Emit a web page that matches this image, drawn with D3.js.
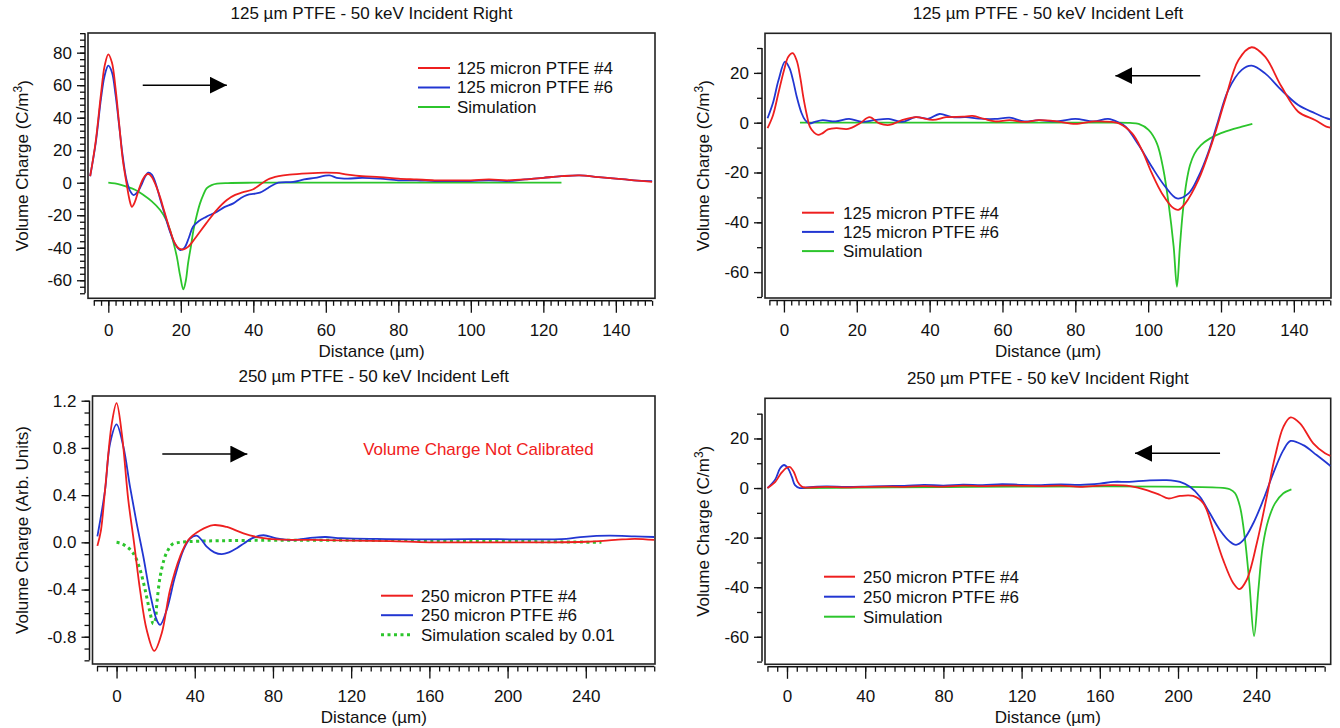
<!DOCTYPE html>
<html>
<head>
<meta charset="utf-8">
<script src="https://cdn.jsdelivr.net/npm/d3@7"></script>
<style>
  body { margin: 0; background: #fff; }
  svg { font-family: "Liberation Sans", Arial, sans-serif; }
  .tick text { font-size: 17px; fill: #111; }
  .tick line { stroke: #111; stroke-width: 1.3; }
  .axis-line { stroke: #111; stroke-width: 1.5; }
  .frame { fill: none; stroke: #222; stroke-width: 1.6; }
  .title, .axis-title, .legend text { font-size: 17px; fill: #111; }
</style>
</head>
<body>
<svg id="chart" width="1340" height="728"></svg>
<script>
// ---- data (x in µm, y in C/m^3 or arb. units) ----
const p1Red = [[-5,4],[-3.5,25],[-2,55],[-1,72],[0,79],[1,74],[2,58],[3,36],[4,14],[5,0],[5.8,-10],[6.5,-14.8],[7.3,-12],[8.3,-5],[9.5,2],[10.5,5],[11.2,5.3],[12,3.5],[13,-1],[14.3,-9],[15.5,-18],[17,-29],[18.3,-37],[19.5,-40.5],[20.8,-41],[22,-39.5],[24,-34],[27,-25],[30,-16.5],[32.7,-10.6],[35,-7.5],[37,-6],[40,-4],[42,-1],[44,2],[47,4],[50,5],[55,5.8],[60,6.2],[63,6],[66,5],[70,4],[75,3.5],[80,2.5],[85,2],[90,1.5],[95,1.5],[100,1.5],[105,2],[110,1.5],[115,2],[120,3],[125,4],[130,4.5],[135,3.5],[140,2.5],[145,1.5],[150,0.5]];
const p1Blue = [[-5,4],[-3.5,24],[-2,52],[-1,66],[0,72],[1,68],[2,54],[3,35],[4,16],[5,2],[6,-5],[7,-7.6],[8,-6],[9,-2],[10,3],[11,6.2],[12,5],[13,0],[14.3,-10],[15.5,-19],[17,-30],[18.5,-38],[19.8,-41.4],[21,-40],[22.2,-34],[23.4,-27],[25,-23.5],[27,-21],[30,-17.8],[32,-15],[34.5,-12.7],[36.5,-9.5],[38.2,-7.6],[41.8,-6.1],[43.5,-4],[44.6,-2.5],[46.9,0],[51,0.5],[54,2],[57,3],[61,4.5],[63,3],[66,2.5],[70,3],[75,2.5],[80,1.5],[85,1.5],[90,1],[95,1],[100,1],[105,1.5],[110,1],[115,2],[120,3],[125,4],[130,4.5],[135,3.5],[140,2.5],[145,1.5],[150,1]];
const p1Sim = [[0,0],[3,-1],[5,-2.4],[7.5,-4.5],[9.7,-7.6],[12,-11.5],[14.3,-16.8],[16,-23],[17,-29],[18,-37],[18.9,-45.5],[19.8,-57],[20.7,-65.6],[21.4,-60],[22,-49.6],[22.8,-39],[23.5,-29],[24.4,-20],[25.3,-12.7],[26.2,-7.5],[27.1,-3.5],[28.5,-1.5],[30,-0.6],[33,-0.2],[40,0],[125,0]];

const p2Red = [[-4.5,-2.2],[-3,3],[-1.5,12],[0,21],[1.2,26.5],[2.4,27.9],[3.5,25],[4.5,18],[5.3,10.5],[6.3,3],[7.1,-1.6],[8.3,-4],[9.4,-4.9],[10.5,-4.3],[12.1,-2.7],[14.4,-2.2],[17.6,-2.5],[20.8,-0.3],[23.5,2.2],[26.2,-0.3],[29,-0.9],[32.6,1.1],[36.3,2.2],[40.9,1.1],[44.5,2.2],[49.1,2.4],[51.8,2.7],[55,1.5],[58,0.5],[62,1],[66,0.3],[70,1],[75,0.5],[80,-0.5],[85,0.5],[90,0.3],[92,-0.3],[95.6,-4.3],[98.3,-11],[101,-20.3],[103.8,-28.4],[107,-34.4],[108.3,-35],[110.2,-32.4],[113.8,-23],[117.5,-8.3],[121.1,9],[124.8,25.2],[128.4,30.3],[132.1,26.5],[136.6,14.5],[141.2,4.4],[145.8,1.1],[148.9,-1.6],[150,-2]];
const p2Blue = [[-4.5,1.8],[-3,8],[-1.5,17],[0.3,24.5],[1.5,22],[2.5,17],[3.5,10.5],[4.8,4],[5.8,1.1],[7,-0.3],[8.5,0.3],[10.6,1],[14.2,0.5],[17.9,1.5],[21.5,0.3],[25.1,1.1],[28.8,1.5],[32.4,0.3],[36.1,2.2],[39.7,1.6],[42.7,3.5],[46.3,2.2],[50,2.2],[53.6,1.6],[58,1.5],[62,2],[66,0.5],[70,1],[75,0.5],[80,1.5],[85,0.5],[89,1.5],[92,0],[93.8,-1.6],[97.4,-9],[101,-17.7],[104.7,-25.7],[107.9,-30.4],[111.1,-28.4],[113.8,-21.7],[116.5,-12],[119,-0.3],[122,13.1],[125.7,21.2],[128.4,22.9],[132.1,19.8],[136.6,13.1],[141.2,7.1],[145.8,3.8],[148.9,1.8],[150,1.3]];
const p2Sim = [[4.4,0],[90,0],[95,-0.1],[97.4,-0.5],[100.1,-2.9],[102.4,-8.3],[104.2,-19],[105.6,-32.4],[107,-49.8],[107.9,-65.9],[108.7,-50],[109.5,-36],[110.5,-24],[111.5,-17],[112.7,-12.5],[114.5,-9],[117,-6.3],[120,-4.2],[123.5,-2.5],[126,-1.5],[128.6,-0.5]];

const p3Red = [[-9.8,-0.03],[-8,0.1],[-5.9,0.44],[-2.5,1.0],[0,1.18],[2.7,0.92],[6,0.36],[9,-0.01],[12,-0.4],[15.4,-0.74],[19.3,-0.92],[23.1,-0.77],[27.4,-0.4],[32.5,-0.12],[36.7,0.02],[42.7,0.1],[49.5,0.146],[56.4,0.13],[64.9,0.076],[73.4,0.04],[82,0.025],[100,0.02],[120,0.015],[140,0.01],[160,0],[180,0],[200,0],[220,0],[240,0.005],[255,0.02],[265,0.03],[275,0.02]];
const p3Blue = [[-9.8,0.05],[-5.9,0.44],[-3.3,0.84],[0,1.0],[3.5,0.81],[6.9,0.47],[10.3,0.16],[13.7,-0.12],[17.1,-0.43],[20.6,-0.66],[22.3,-0.7],[25.7,-0.57],[29.9,-0.29],[34.2,-0.065],[37.5,0.03],[41,0.056],[43.5,0.02],[46.1,-0.037],[50,-0.085],[53.8,-0.1],[57.5,-0.085],[61.5,-0.05],[65.5,-0.005],[69.2,0.034],[75.1,0.06],[81.9,0.034],[90,0.02],[100.7,0.04],[107,0.045],[115,0.035],[138,0.028],[160,0.025],[182,0.028],[210,0.025],[230,0.03],[239,0.047],[252,0.056],[265,0.05],[275,0.045]];
const p3Sim = [[0,0],[2.5,-0.01],[5.2,-0.037],[7.5,-0.07],[9.5,-0.12],[12,-0.23],[14.6,-0.4],[16.8,-0.57],[18.8,-0.69],[19.8,-0.66],[20.6,-0.52],[22.3,-0.29],[24.8,-0.12],[26.5,-0.06],[28.2,-0.02],[32.5,0],[248,0]];

const p4Red = [[-10,0],[-6,2.5],[-3,6],[0,8.3],[1.5,8.5],[3.5,6.5],[5.5,2.5],[7.5,0.6],[9.5,0.2],[20,0.5],[30,0.3],[40,0.5],[50,0.6],[60,0.5],[70,0.8],[80,0.6],[90,1],[100,0.8],[110,1],[120,0.9],[130,0.8],[140,1],[150,0.5],[160,1],[167,1.2],[175.5,0.8],[184,-0.8],[190.8,-2.8],[195,-4.2],[201,-3.2],[207.8,-3.2],[213,-6.2],[218,-16.9],[223.1,-29],[228.3,-38.4],[231.4,-40.8],[235.1,-37.1],[240.3,-22.3],[245.4,-3.5],[249.6,12.6],[253.9,24.7],[257.6,28.5],[262.4,26.1],[269.2,18],[275.2,14],[278,13]];
const p4Blue = [[-10,0],[-6,3.5],[-3.5,8],[-1.5,9.3],[0.5,8],[2.5,4.5],[4.1,1.2],[6.6,0],[10,0.3],[20,0.7],[30,0.5],[40,0.6],[50,0.8],[60,0.9],[70,1.3],[80,1],[90,1.4],[100,1.2],[110,1.6],[120,1.3],[130,1.2],[140,1.5],[150,1.3],[160,1.8],[167,2.5],[175,2.5],[184,3],[194.2,3.2],[201,2.5],[206.1,0.5],[211.2,-3.5],[216.3,-10.2],[221.4,-16.9],[226.5,-21.6],[229.7,-22.9],[233.4,-21],[238.5,-14.2],[243.6,-4.8],[248.7,5.9],[253.9,15.3],[257.6,19],[264.1,17.3],[270.9,13.3],[278,8.9]];
const p4Sim = [[8,0],[224,0],[226.5,-0.5],[229.2,-2.1],[231.7,-7.5],[234.3,-21],[236.5,-38.4],[238.9,-59.7],[241.1,-41.1],[243.3,-23.7],[246.2,-12.9],[249.6,-6.2],[253.9,-2.1],[258,-0.5]];

// tick labels
const xTicks125 = [0, 20, 40, 60, 80, 100, 120, 140];
const xTicks250 = [0, 40, 80, 120, 160, 200, 240];
const yTicksP1 = [-60, -40, -20, 0, 20, 40, 60, 80];
const yTicksC = [-60, -40, -20, 0, 20];
const yTicksArb = [-0.8, -0.4, 0.0, 0.4, 0.8, 1.2];

const titles = [
  "125 µm PTFE - 50 keV Incident Right",
  "125 µm PTFE - 50 keV Incident Left",
  "250 µm PTFE - 50 keV Incident Left",
  "250 µm PTFE - 50 keV Incident Right"
];
const legend125 = ["125 micron PTFE #4", "125 micron PTFE #6", "Simulation"];
const legend250 = ["250 micron PTFE #4", "250 micron PTFE #6", "Simulation"];
const legend250scaled = ["250 micron PTFE #4", "250 micron PTFE #6", "Simulation scaled by 0.01"];

const RED = "#ee1f1f", BLUE = "#2236d2", GREEN = "#2cc52c";

const svg = d3.select("#chart");

const panels = [
  {
    frame: {x: 88, y: 33, w: 567, h: 265.3},
    xDomain: [-5.6, 150.8], yDomain: [-71.1, 92.1],
    xTicks: xTicks125, xMinor: d3.range(-4, 151, 2),
    yTicks: yTicksP1, yMinor: d3.range(-68, 93, 4), yFmt: d => d,
    title: titles[0], yTitle: "C", yTitleX: 22,
    series: [p1Red, p1Blue, p1Sim], dashedSim: false,
    legend: {labels: legend125, x1: 418, x2: 450, tx: 457, y: 68, dy: 19.5},
    arrow: {from: [9.5, 60], to: [32.7, 60]}
  },
  {
    frame: {x: 765, y: 33.3, w: 566, h: 264.7},
    xDomain: [-5.2, 150.2], yDomain: [-70.4, 35.9],
    xTicks: xTicks125, xMinor: d3.range(-4, 151, 2),
    yTicks: yTicksC, yMinor: d3.range(-70, 31, 10), yFmt: d => d,
    title: titles[1], yTitle: "C", yTitleX: 703,
    series: [p2Red, p2Blue, p2Sim], dashedSim: false,
    legend: {labels: legend125, x1: 802, x2: 834, tx: 843, y: 212.7, dy: 19.2},
    arrow: {from: [114.3, 18.9], to: [91, 18.9]}
  },
  {
    frame: {x: 92.5, y: 396, w: 562.5, h: 268},
    xDomain: [-12.3, 275.4], yDomain: [-1.031, 1.24],
    xTicks: xTicks250, xMinor: d3.range(-10, 276, 5),
    yTicks: yTicksArb, yMinor: d3.range(-10, 13, 1).map(d => d / 10), yFmt: d => d.toFixed(1),
    title: titles[2], yTitle: "Arb", yTitleX: 22,
    series: [p3Red, p3Blue, p3Sim], dashedSim: true,
    legend: {labels: legend250scaled, x1: 381, x2: 413, tx: 421, y: 595.7, dy: 19.5},
    arrow: {from: [23.4, 0.748], to: [66.9, 0.748]},
    note: {text: "Volume Charge Not Calibrated", x: 478.5, y: 455}
  },
  {
    frame: {x: 765, y: 398.3, w: 565.7, h: 266},
    xDomain: [-11.25, 278.1], yDomain: [-71.1, 36.2],
    xTicks: xTicks250, xMinor: d3.range(-10, 279, 5),
    yTicks: yTicksC, yMinor: d3.range(-70, 31, 10), yFmt: d => d,
    title: titles[3], yTitle: "C", yTitleX: 703,
    series: [p4Red, p4Blue, p4Sim], dashedSim: false,
    legend: {labels: legend250, x1: 824, x2: 855, tx: 863, y: 576.7, dy: 20},
    arrow: {from: [221.5, 14], to: [178, 14]}
  }
];

svg.append("defs").append("marker")
    .attr("id", "head")
    .attr("viewBox", "0 0 17 17")
    .attr("refX", 17).attr("refY", 8.5)
    .attr("markerWidth", 17).attr("markerHeight", 17)
    .attr("markerUnits", "userSpaceOnUse")
    .attr("orient", "auto")
  .append("path")
    .attr("d", "M0,0 L17,8.5 L0,17 Z")
    .attr("fill", "#000");

panels.forEach((p, i) => drawPanel(p, i));

function drawPanel(p, i) {
    const f = p.frame;
    const x = d3.scaleLinear().domain(p.xDomain).range([f.x, f.x + f.w]);
    const y = d3.scaleLinear().domain(p.yDomain).range([f.y + f.h, f.y]);

    const g = svg.append("g");

    // clip
    const clipId = "clip" + i;
    svg.select("defs").append("clipPath").attr("id", clipId)
      .append("rect").attr("x", f.x).attr("y", f.y).attr("width", f.w).attr("height", f.h);

    // axes: minor then major
    const xAxisY = f.y + f.h + 2.5;
    const yAxisX = f.x - 3;

    const xMinorG = g.append("g").attr("transform", `translate(0,${xAxisY})`)
        .call(d3.axisBottom(x).tickValues(p.xMinor).tickSize(5).tickFormat(""));
    const xMajorG = g.append("g").attr("transform", `translate(0,${xAxisY})`)
        .call(d3.axisBottom(x).tickValues(p.xTicks).tickSize(12).tickPadding(11).tickFormat(d => d));
    const yMinorG = g.append("g").attr("transform", `translate(${yAxisX},0)`)
        .call(d3.axisLeft(y).tickValues(p.yMinor).tickSize(5).tickFormat(""));
    const yMajorG = g.append("g").attr("transform", `translate(${yAxisX},0)`)
        .call(d3.axisLeft(y).tickValues(p.yTicks).tickSize(8).tickPadding(5).tickFormat(p.yFmt));
    [xMinorG, xMajorG, yMinorG, yMajorG].forEach(a => a.select(".domain").remove());
    g.selectAll(".tick text").attr("font-family", null);

    g.append("line").attr("class", "axis-line")
        .attr("x1", x(d3.min(p.xMinor))).attr("x2", x(d3.max(p.xMinor)))
        .attr("y1", xAxisY).attr("y2", xAxisY);
    g.append("line").attr("class", "axis-line")
        .attr("x1", yAxisX).attr("x2", yAxisX)
        .attr("y1", y(d3.min(p.yMinor))).attr("y2", y(d3.max(p.yMinor)));

    // frame
    g.append("rect").attr("class", "frame")
        .attr("x", f.x).attr("y", f.y).attr("width", f.w).attr("height", f.h);

    // series
    const line = d3.line()
        .x(d => x(d[0])).y(d => y(d[1]))
        .curve(d3.curveCatmullRom.alpha(0.5));
    const colors = [RED, BLUE, GREEN];
    const plot = g.append("g").attr("clip-path", `url(#${clipId})`);
    [2, 1, 0].forEach(k => {
        const path = plot.append("path")
            .datum(p.series[k])
            .attr("fill", "none")
            .attr("stroke", colors[k])
            .attr("stroke-width", 1.8)
            .attr("stroke-linejoin", "round")
            .attr("d", line);
        if (k === 2 && p.dashedSim) {
            path.attr("stroke-width", 3).attr("stroke-dasharray", "3,3.5");
        }
    });

    // arrow
    g.append("line")
        .attr("x1", x(p.arrow.from[0])).attr("y1", y(p.arrow.from[1]))
        .attr("x2", x(p.arrow.to[0])).attr("y2", y(p.arrow.to[1]))
        .attr("stroke", "#000").attr("stroke-width", 1.5)
        .attr("marker-end", "url(#head)");

    // legend
    const lg = g.append("g").attr("class", "legend");
    p.legend.labels.forEach((lab, k) => {
        const ly = p.legend.y + k * p.legend.dy;
        const ln = lg.append("line")
            .attr("x1", p.legend.x1).attr("x2", p.legend.x2)
            .attr("y1", ly).attr("y2", ly)
            .attr("stroke", colors[k]).attr("stroke-width", 2);
        if (k === 2 && p.dashedSim) ln.attr("stroke-width", 3).attr("stroke-dasharray", "3,3.5");
        lg.append("text").attr("x", p.legend.tx).attr("y", ly).attr("dy", "0.35em").text(lab);
    });

    if (p.note) {
        g.append("text").attr("x", p.note.x).attr("y", p.note.y)
            .attr("text-anchor", "middle").attr("fill", "#f02020")
            .style("font-size", "17px").text(p.note.text);
    }

    // titles
    g.append("text").attr("class", "title")
        .attr("x", f.x + f.w / 2).attr("y", f.y - 14)
        .attr("text-anchor", "middle").text(p.title);
    g.append("text").attr("class", "axis-title")
        .attr("x", f.x + f.w / 2).attr("y", f.y + f.h + 59)
        .attr("text-anchor", "middle").text("Distance (µm)");

    const yt = g.append("text").attr("class", "axis-title")
        .attr("transform", `translate(${p.yTitleX},${f.y + f.h / 2}) rotate(-90)`)
        .attr("text-anchor", "middle").attr("dy", "0.35em");
    if (p.yTitle === "C") {
        yt.append("tspan").text("Volume Charge (C/m");
        yt.append("tspan").attr("dy", "-0.5em").style("font-size", "12px").text("3");
        yt.append("tspan").attr("dy", "0.5em").text(")");
    } else {
        yt.text("Volume Charge (Arb. Units)");
    }
}
</script>
</body>
</html>
